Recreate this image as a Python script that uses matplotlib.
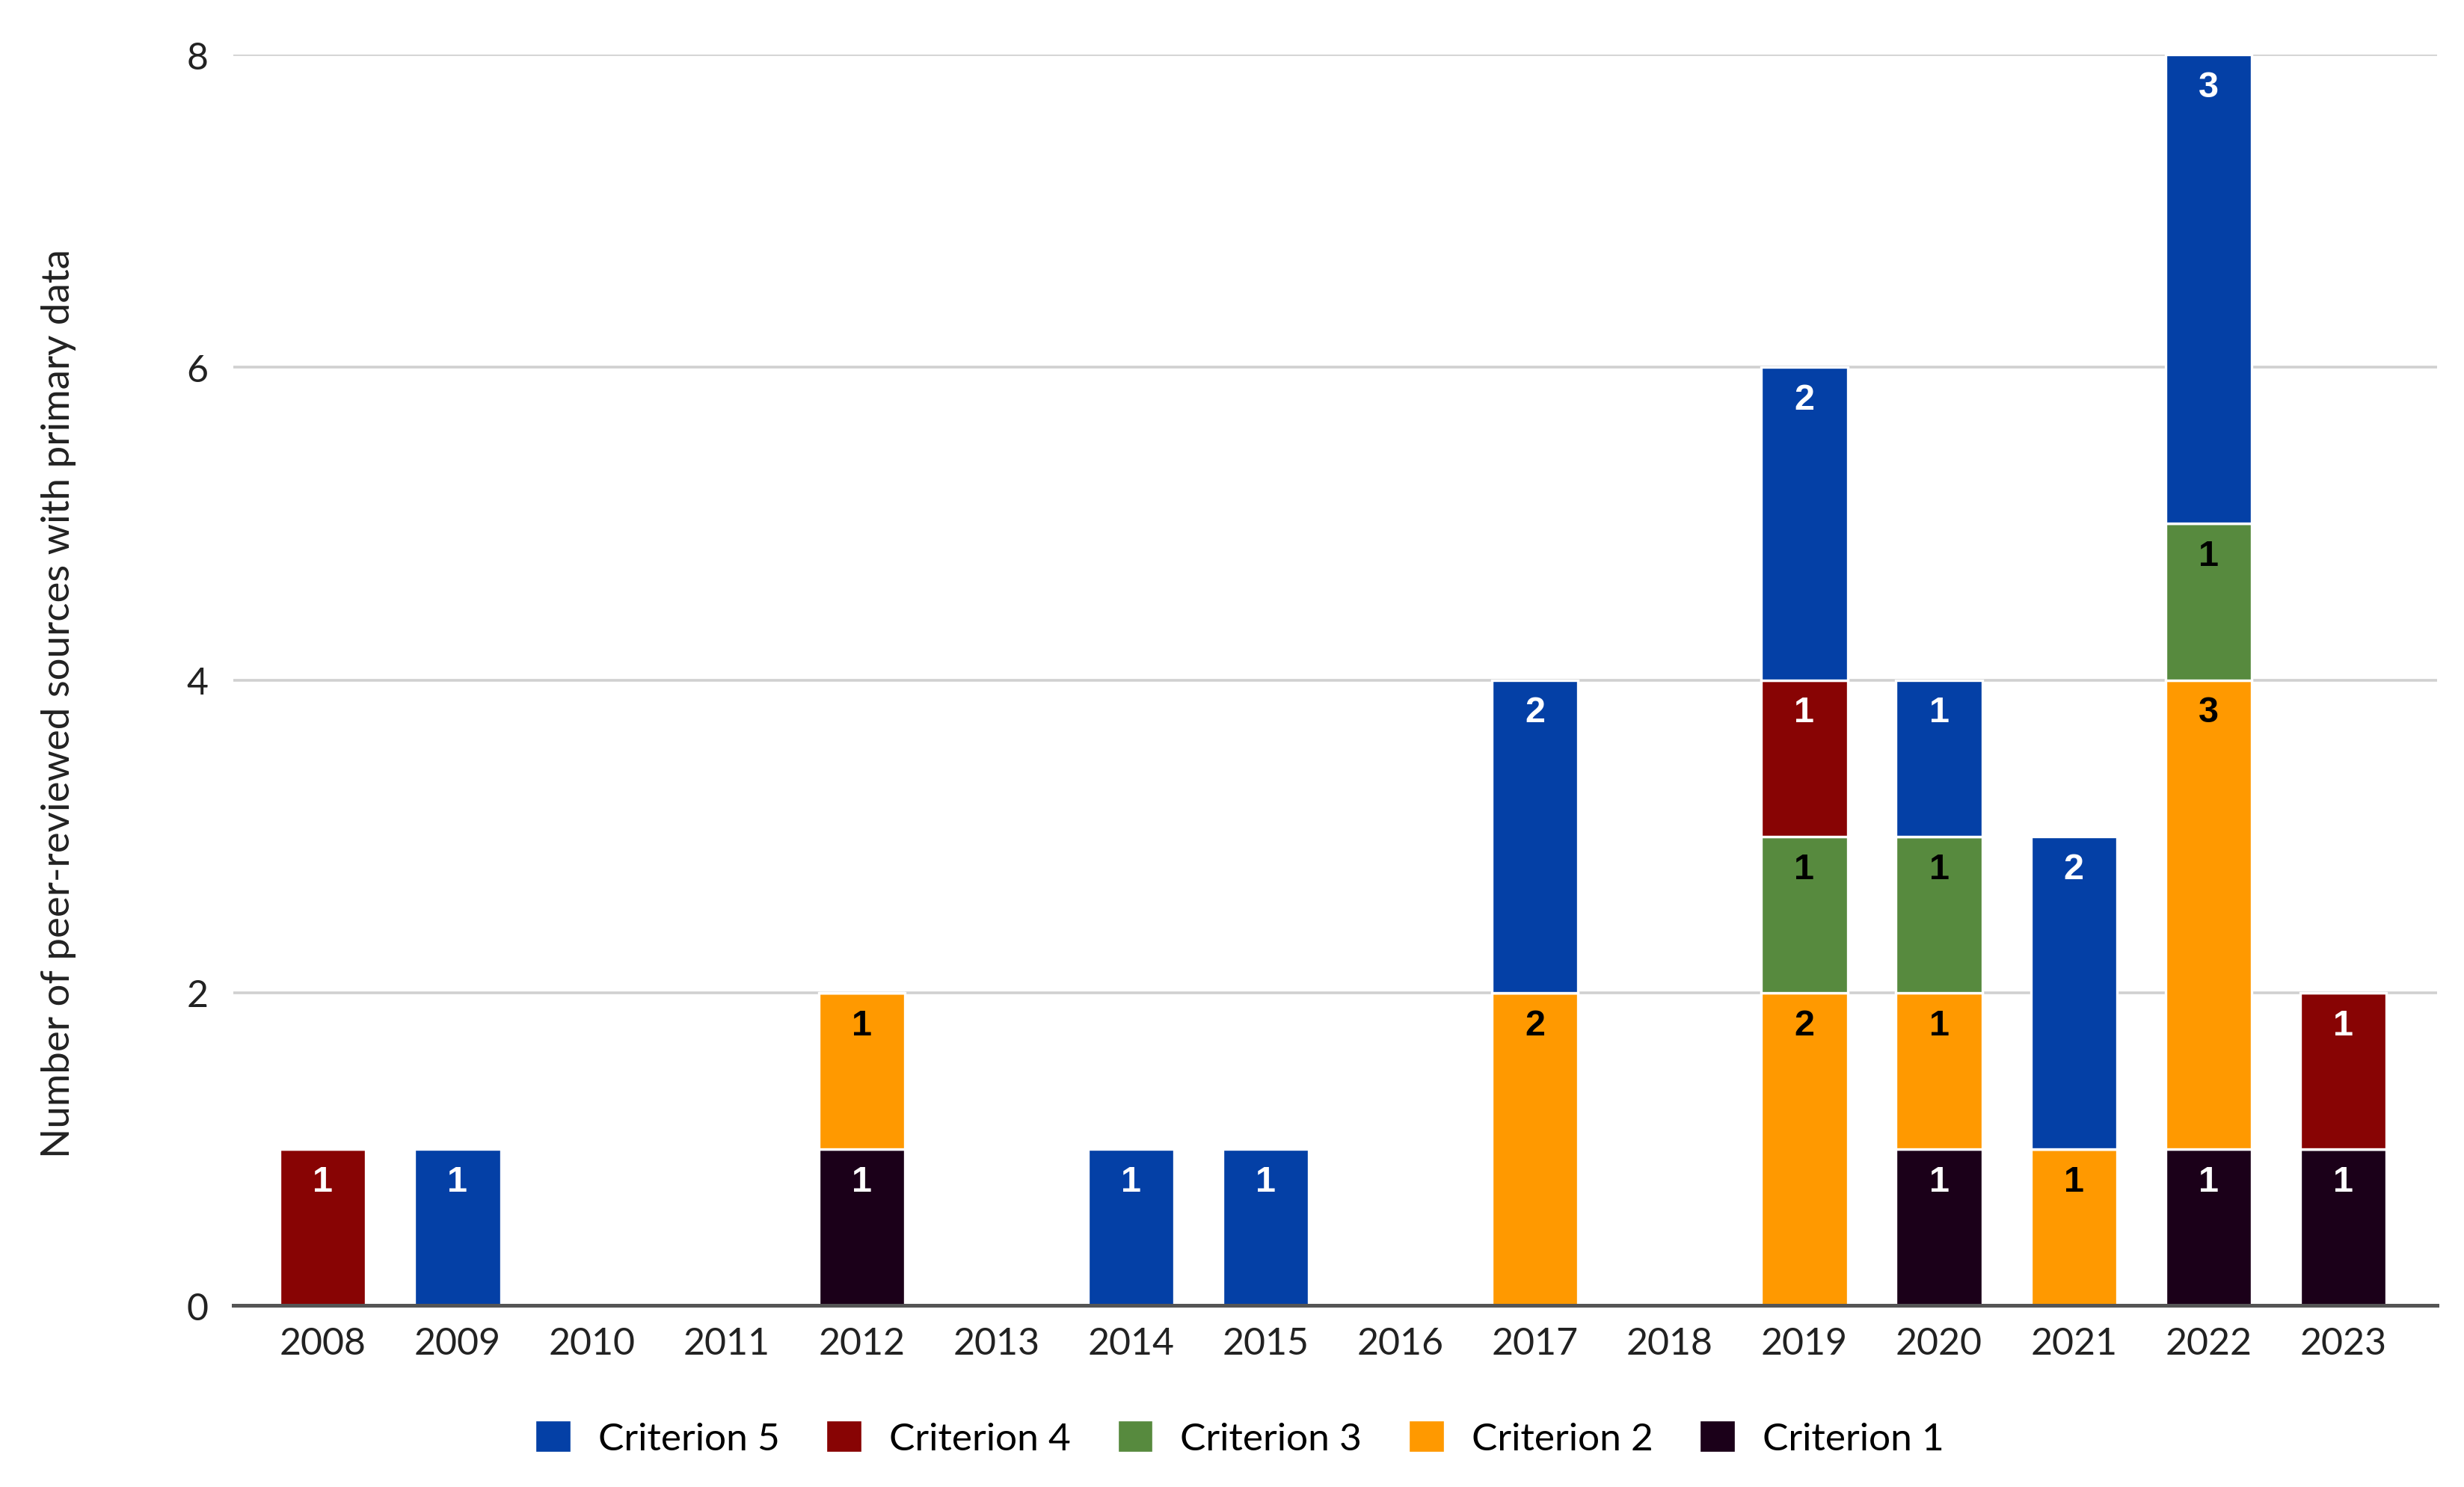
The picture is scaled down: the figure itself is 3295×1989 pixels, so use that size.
import numpy as np
import matplotlib.pyplot as plt

# stacked counts per year, bottom to top: Criterion 1 .. Criterion 5
years = [str(y) for y in range(2008, 2024)]
crit1 = [0, 0, 0, 0, 1, 0, 0, 0, 0, 0, 0, 0, 1, 0, 1, 1]
crit2 = [0, 0, 0, 0, 1, 0, 0, 0, 0, 2, 0, 2, 1, 1, 3, 0]
crit3 = [0, 0, 0, 0, 0, 0, 0, 0, 0, 0, 0, 1, 1, 0, 1, 0]
crit4 = [1, 0, 0, 0, 0, 0, 0, 0, 0, 0, 0, 1, 0, 0, 0, 1]
crit5 = [0, 1, 0, 0, 0, 0, 1, 1, 0, 2, 0, 2, 1, 2, 3, 0]

series = [
    ("Criterion 1", crit1, "#1b0019", "white"),
    ("Criterion 2", crit2, "#ff9900", "black"),
    ("Criterion 3", crit3, "#578a3e", "black"),
    ("Criterion 4", crit4, "#880404", "white"),
    ("Criterion 5", crit5, "#0440a6", "white"),
]

plt.rcParams['font.family'] = ['Lato', 'DejaVu Sans']

fig = plt.figure(figsize=(16.475, 9.95), dpi=200)
ax = fig.add_axes([0.0947, 0.1221, 0.8945, 0.8407])

x = np.arange(len(years))
bottom = np.zeros(len(years))
handles = {}
for name, vals, color, txtcol in series:
    vals = np.array(vals, dtype=float)
    bars = ax.bar(x, vals, width=0.64, bottom=bottom, color=color,
                  edgecolor="white", linewidth=1.2, zorder=3, label=name)
    handles[name] = bars
    for xi, v, b in zip(x, vals, bottom):
        if v > 0:
            ax.text(xi, b + v - 0.1, f"{int(v)}", ha="center", va="top",
                    color=txtcol, fontsize=17.5, fontweight="bold",
                    family=["Liberation Sans", "DejaVu Sans"], zorder=4)
    bottom += vals

ax.set_xlim(-0.665, 15.70)
ax.set_ylim(0, 8)
ax.set_yticks([0, 2, 4, 6, 8])
ax.set_xticks(x)
ax.set_xticklabels(years)
ax.tick_params(axis="both", length=0, labelsize=18, colors="#222222")
ax.tick_params(axis="x", pad=10)
ax.tick_params(axis="y", pad=12)
ax.grid(axis="y", color="#d0d0d0", linewidth=1.3, zorder=0)
for s in ["top", "right", "left"]:
    ax.spines[s].set_visible(False)
ax.spines["bottom"].set_color("#555555")
ax.spines["bottom"].set_linewidth(1.8)
ax.spines["bottom"].set_zorder(5)

fig.text(0.0237, 0.527, "Number of peer-reviewed sources with primary data",
         rotation=90, ha="center", va="center", fontsize=19, color="#222222")

order = ["Criterion 5", "Criterion 4", "Criterion 3", "Criterion 2", "Criterion 1"]
fig.legend([handles[n] for n in order], order, loc="center",
           bbox_to_anchor=(0.503, 0.033), ncol=5, frameon=False,
           fontsize=18.5, handlelength=0.95, handleheight=0.95,
           columnspacing=1.2, handletextpad=0.7)

fig.savefig("out.png", dpi=200)
